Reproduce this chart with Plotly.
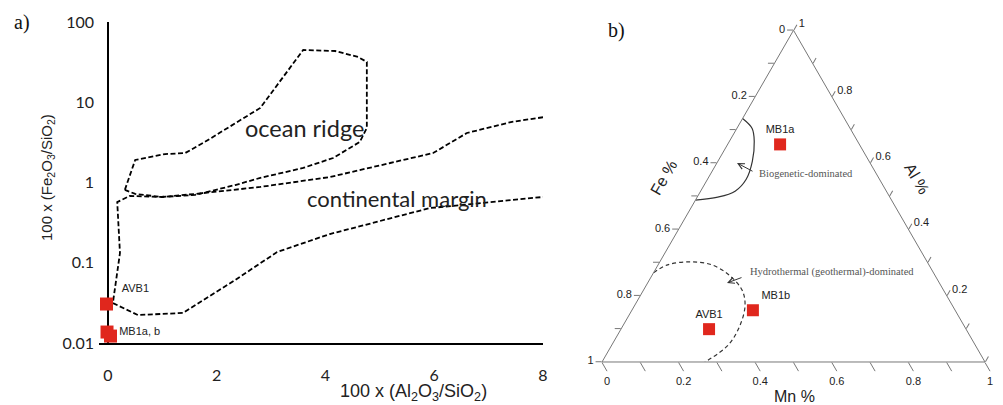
import plotly.graph_objects as go

# ---------------- Panel a) data ----------------
ridge_x = [0.31, 0.50, 1.05, 1.42, 1.78, 2.80, 3.59, 4.18, 4.60, 4.76, 4.76, 4.63, 4.14, 3.59, 2.80, 2.34, 1.60, 0.99, 0.50, 0.31]
ridge_y = [0.81, 1.91, 2.26, 2.33, 3.2, 8.5, 44.8, 43.5, 36.6, 31.8, 4.78, 3.2, 2.02, 1.52, 1.14, 0.93, 0.70, 0.66, 0.72, 0.81]

margin_x = [8.0, 7.43, 6.60, 5.98, 5.19, 4.08, 2.80, 2.34, 1.60, 0.99, 0.40, 0.17, 0.22, 0.09, 0.55, 1.38, 2.34, 3.11, 4.08, 5.92, 8.0]
margin_y = [6.5, 5.7, 4.14, 2.33, 1.75, 1.17, 0.88, 0.81, 0.72, 0.66, 0.68, 0.57, 0.132, 0.0315, 0.0223, 0.0237, 0.061, 0.136, 0.228, 0.48, 0.66]

a_samples = ["AVB1", "MB1a", "MB1b"]
a_labels = ["&nbsp;&nbsp;AVB1", "&nbsp;MB1a, b", ""]
a_x = [-0.028, -0.018, 0.046]
a_y = [0.0306, 0.0137, 0.0122]

x_ticks = [0, 2, 4, 6, 8]
y_ticks = [0.01, 0.1, 1, 10, 100]
y_ticktext = ["0.01", "0.1", "1", "10", "100"]

# ---------------- Panel b) data ----------------
t_samples = ["MB1a", "MB1b", "AVB1"]
t_al = [0.656, 0.156, 0.099]
t_fe = [0.207, 0.528, 0.671]
t_mn = [0.137, 0.316, 0.230]

bio_al = [0.734, 0.704, 0.665, 0.605, 0.551, 0.515, 0.497, 0.488]
bio_mn = [0.0, 0.040, 0.065, 0.090, 0.101, 0.090, 0.054, 0.0]
bio_fe = [1 - a - c for a, c in zip(bio_al, bio_mn)]

hyd_al = [0.269, 0.293, 0.302, 0.293, 0.260, 0.216, 0.171, 0.111, 0.051, 0.0]
hyd_mn = [0.0, 0.025, 0.079, 0.140, 0.204, 0.258, 0.288, 0.305, 0.304, 0.269]
hyd_fe = [1 - a - c for a, c in zip(hyd_al, hyd_mn)]

tern_vals = [i / 10 for i in range(11)]

W, H = 1003, 405
def px(x):
    return x / W
def py(y):
    return 1 - y / H

RED = "#e0271d"
DASH = "5px,2.5px"
X_MIN = -0.16
X0_PX, X8_PX = 108, 543
PX_PER_UNIT = (X8_PX - X0_PX) / 8

fig = go.Figure()

fig.add_trace(go.Scatter(x=ridge_x, y=ridge_y, mode="lines",
                         line=dict(color="black", width=1.8, dash=DASH),
                         hoverinfo="skip", showlegend=False))
fig.add_trace(go.Scatter(x=margin_x, y=margin_y, mode="lines",
                         line=dict(color="black", width=1.8, dash=DASH),
                         hoverinfo="skip", showlegend=False))
fig.add_trace(go.Scatter(x=a_x, y=a_y, mode="markers+text", text=a_labels,
                         textposition=["top right", "middle right", "middle right"],
                         textfont=dict(family="Liberation Sans, Arial", size=11, color="#222"),
                         marker=dict(symbol="square", size=13, color=RED),
                         cliponaxis=False, showlegend=False))

# ternary
fig.add_trace(go.Scatterternary(a=bio_al, b=bio_fe, c=bio_mn, mode="lines",
                                line=dict(color="#333", width=1.2, shape="spline"),
                                hoverinfo="skip", showlegend=False))
fig.add_trace(go.Scatterternary(a=hyd_al, b=hyd_fe, c=hyd_mn, mode="lines",
                                line=dict(color="#333", width=1.2, shape="spline", dash="4px,3px"),
                                hoverinfo="skip", showlegend=False))
fig.add_trace(go.Scatterternary(a=t_al, b=t_fe, c=t_mn, mode="markers+text", text=t_samples,
                                textposition=["top center", "top right", "top center"],
                                textfont=dict(family="Liberation Sans, Arial", size=11, color="#222"),
                                marker=dict(symbol="square", size=12, color=RED),
                                cliponaxis=False, showlegend=False))

def fmt(v):
    r = round(1 - v, 1)
    if r == 0:
        return "0"
    if r == 1:
        return "1"
    return f"{r:.1f}"

def tern_axis(hide_last=False, ticklen=6):
    texts = []
    for i, v in enumerate(tern_vals):
        if i % 2 == 0 and not (hide_last and i == 10):
            texts.append(fmt(v))
        else:
            texts.append("")
    return dict(title=dict(text=""), tickmode="array", tickvals=tern_vals, ticktext=texts,
                ticks="outside", ticklen=ticklen, tickcolor="#777", tickwidth=1,
                showline=True, linecolor="#777", linewidth=1, showgrid=False,
                tickfont=dict(family="Liberation Sans, Arial", size=11, color="#222"))

fig.update_layout(
    width=W, height=H,
    margin=dict(l=0, r=0, t=0, b=0, autoexpand=False),
    paper_bgcolor="white", plot_bgcolor="white",
    showlegend=False,
    xaxis=dict(domain=[px(X0_PX + X_MIN * PX_PER_UNIT), px(X8_PX)], range=[X_MIN, 8],
               tickmode="array", tickvals=x_ticks,
               showgrid=False, zeroline=True, zerolinecolor="black", zerolinewidth=1.8,
               showline=True, linecolor="black", linewidth=1.8,
               ticks="outside", ticklen=17, tickcolor="rgba(0,0,0,0)",
               tickfont=dict(family="Lato, Open Sans", size=16, color="#222")),
    yaxis=dict(domain=[py(343), py(22)], type="log", range=[-2, 2], tickmode="array",
               tickvals=y_ticks, ticktext=y_ticktext,
               showgrid=False, zeroline=False, showline=False,
               ticks="outside", ticklen=1, tickcolor="rgba(0,0,0,0)",
               tickfont=dict(family="Lato, Open Sans", size=16, color="#222")),
    ternary=dict(domain=dict(x=[px(602), px(985)], y=[py(362), py(362 - 331.7)]),
                 sum=1, bgcolor="white",
                 aaxis=tern_axis(),
                 baxis=tern_axis(ticklen=10),
                 caxis=tern_axis(hide_last=True)),
)

ann = []
def T(text, x, y, size, family="Liberation Sans, Arial", color="#222", angle=0, xanchor="center", yanchor="middle"):
    ann.append(dict(text=text, x=px(x), y=py(y), xref="paper", yref="paper", showarrow=False,
                    font=dict(family=family, size=size, color=color), textangle=angle,
                    xanchor=xanchor, yanchor=yanchor))

T("a)", 12, 22, 20, family="Liberation Serif, Times New Roman", color="#111", xanchor="left")
T("b)", 606, 30, 20, family="Liberation Serif, Times New Roman", color="#111", xanchor="left")
T("100 x (Fe<sub>2</sub>O<sub>3</sub>/SiO<sub>2</sub>)", 47, 178, 15, angle=-90)
T("100 x (Al<sub>2</sub>O<sub>3</sub>/SiO<sub>2</sub>)", 338, 392, 18, xanchor="left")
T("ocean ridge", 304, 128, 23.5, family="Lato, Open Sans")
T("continental margin", 397, 198, 22, family="Lato, Open Sans")
T("Fe %", 663, 178, 16, angle=-60)
T("Al %", 917, 178, 16, angle=60)
T("Mn %", 794, 396, 16)
T("Biogenetic-dominated", 757, 174, 10.5, family="Liberation Serif, Times New Roman", color="#555", xanchor="left")
T("Hydrothermal (geothermal)-dominated", 748, 272, 10.5, family="Liberation Serif, Times New Roman", color="#555", xanchor="left")

# arrows
ann.append(dict(x=px(737), y=py(163), xref="paper", yref="paper", ax=17, ay=9, text="",
                showarrow=True, arrowhead=5, arrowsize=1.2, arrowwidth=1, arrowcolor="#333"))
ann.append(dict(x=px(727), y=py(283), xref="paper", yref="paper", ax=16, ay=-6, text="",
                showarrow=True, arrowhead=5, arrowsize=1.2, arrowwidth=1, arrowcolor="#333"))

fig.update_layout(annotations=ann)

fig.write_html("out.html")
